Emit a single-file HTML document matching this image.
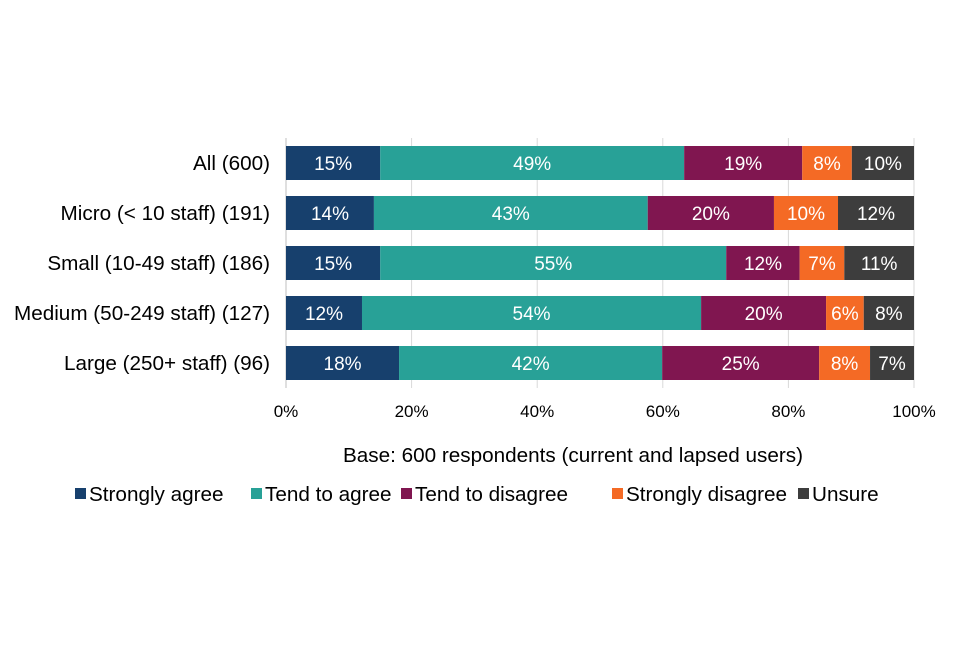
<!DOCTYPE html>
<html><head><meta charset="utf-8"><style>
body{margin:0;background:#fff;font-family:"Liberation Sans",Arial,sans-serif;}
</style></head><body>
<svg id="chart" width="960" height="640" xmlns="http://www.w3.org/2000/svg" font-family="Liberation Sans, Arial, sans-serif"></svg>
<script>
const categories=["All (600)","Micro (< 10 staff) (191)","Small (10-49 staff) (186)","Medium (50-249 staff) (127)","Large (250+ staff) (96)"];
const seriesNames=["Strongly agree","Tend to agree","Tend to disagree","Strongly disagree","Unsure"];
const stronglyAgree=[15,14,15,12.1,18];
const tendAgree=[48.4,43.6,55.1,54,41.9];
const tendDisagree=[18.8,20.1,11.7,19.9,25];
const stronglyDisagree=[7.9,10.2,7.1,6,8.1];
const unsure=[9.9,12.1,11.1,8,7];
const labelsSA=["15%","14%","15%","12%","18%"];
const labelsTA=["49%","43%","55%","54%","42%"];
const labelsTD=["19%","20%","12%","20%","25%"];
const labelsSD=["8%","10%","7%","6%","8%"];
const labelsU=["10%","12%","11%","8%","7%"];
const ticks=[0,20,40,60,80,100];
const colors=["#17406d","#28a197","#801650","#f46a25","#3d3d3d"];
const series=[stronglyAgree,tendAgree,tendDisagree,stronglyDisagree,unsure];
const labels=[labelsSA,labelsTA,labelsTD,labelsSD,labelsU];
const NS="http://www.w3.org/2000/svg";
const svg=document.getElementById("chart");
const x0=286,x1=914,plotTop=138,rowH=50,barH=34;
function xs(v){return x0+(x1-x0)*v/100;}
function yc(i){return plotTop+25+i*rowH;}
function mk(t,a){const e=document.createElementNS(NS,t);for(const k in a)e.setAttribute(k,a[k]);svg.appendChild(e);return e;}
ticks.forEach(t=>{
 const l=mk("line",{x1:xs(t),x2:xs(t),y1:plotTop,y2:plotTop+rowH*categories.length,stroke:"#d9d9d9","stroke-width":1});
 
 
 const tx=mk("text",{x:xs(t),y:417,"text-anchor":"middle","font-size":17,fill:"#000"});
 tx.textContent=t+"%";
 
 
});
mk("line",{x1:x0,x2:x0,y1:plotTop,y2:plotTop+rowH*categories.length,stroke:"#bfbfbf","stroke-width":1});
categories.forEach((c,i)=>{
 const tx=mk("text",{x:270,y:yc(i)+7,"text-anchor":"end","font-size":20.7,fill:"#000"});
 tx.textContent=c;
 
 
 let cum=0;
 series.forEach((s,j)=>{
  const v=s[i];
  const r=mk("rect",{x:xs(cum),y:yc(i)-barH/2,width:xs(cum+v)-xs(cum),height:barH,fill:colors[j]});
  
  
  const lt=mk("text",{x:(xs(cum)+xs(cum+v))/2,y:yc(i)+7,"text-anchor":"middle","font-size":19,fill:"#fff"});
  lt.textContent=labels[j][i];
  
  
  cum+=v;
 });
});
const base=mk("text",{x:573,y:462,"text-anchor":"middle","font-size":20.7,fill:"#000"});
base.textContent="Base: 600 respondents (current and lapsed users)";


const lx=[75,251,401,612,798];
seriesNames.forEach((n,j)=>{
 const r=mk("rect",{x:lx[j],y:488,width:11,height:11,fill:colors[j]});
 
 
 const t=mk("text",{x:lx[j]+14,y:501,"font-size":20.7,fill:"#000"});
 t.textContent=n;
 
 
});
</script>
</body></html>
